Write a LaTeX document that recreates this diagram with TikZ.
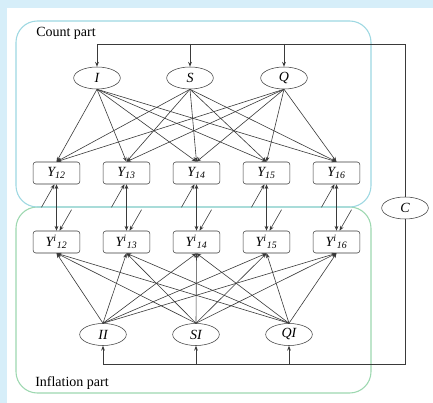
\documentclass[tikz,border=0pt]{standalone}
\usepackage{fontspec}
\setmainfont{Liberation Serif}
\usetikzlibrary{arrows.meta}
\usetikzlibrary{shapes.geometric}
\usetikzlibrary{calc}
\definecolor{bgblue}{HTML}{D6EEF9}
\definecolor{countcol}{HTML}{9ED8E2}
\definecolor{inflcol}{HTML}{9DD8B0}
\definecolor{linecol}{HTML}{3A3A3A}

\begin{document}
\begin{tikzpicture}[x=0.75pt,y=-0.75pt,
    font=\fontsize{10.5}{12}\selectfont,
    latent/.style={ellipse,draw=linecol,fill=white,minimum width=35pt,minimum height=16.5pt,
      inner sep=0pt,font=\fontsize{10.5}{12}\selectfont\itshape},
    obsbox/.style={rectangle,rounded corners=2pt,draw=linecol,fill=white,minimum width=35pt,
      minimum height=16.5pt,inner sep=0pt,font=\fontsize{10.5}{12}\selectfont\itshape},
    conn/.style={draw=linecol,line width=0.45pt,-{Stealth[length=3.6pt,width=2.8pt]}},
    dblconn/.style={draw=linecol,line width=0.45pt,{Stealth[length=3.6pt,width=2.8pt]}-{Stealth[length=3.6pt,width=2.8pt]}},
    feed/.style={draw=linecol,line width=0.6pt,-{Stealth[length=3.6pt,width=2.8pt]}},
    part/.style={line width=0.8pt,rounded corners=16pt}]
    % background and frame
    \fill[bgblue] (0,0) rectangle (433,403);
    \fill[white] (7,8) rectangle (433,403);
    \draw[part,draw=inflcol] (16,207) rectangle (371,393);
    \draw[part,draw=countcol] (16,21) rectangle (371,207);
    \node[anchor=base west,inner sep=0pt] (countlbl) at (36,37) {Count part};
    \node[anchor=base west,inner sep=0pt] (infllbl) at (35,387) {Inflation part};

    % latent factors
    \node[latent] (I) at (97,78) {I};
    \node[latent] (S) at (190,78) {S};
    \node[latent] (Q) at (284,78) {Q};
    \node[latent] (II) at (103,334.5) {II};
    \node[latent] (SI) at (196,334.5) {SI};
    \node[latent] (QI) at (289,334.5) {QI};
    \node[latent] (C) at (405,208) {C};

    % observed waves
    \foreach \k [count=\n from 0] in {12,...,16} {
      \node[obsbox] (Y\k) at (56.5+70*\n,173) {Y\textsubscript{\k}};
      \node[obsbox] (Yi\k) at (56.5+70*\n,242) {Y\textsuperscript{i}\textsubscript{\k}};
    }

    % loadings
    \foreach \f in {I,S,Q}
      \foreach \k in {12,...,16}
        \draw[conn] (\f.south) -- (Y\k.north);
    \foreach \f in {II,SI,QI}
      \foreach \k in {12,...,16}
        \draw[conn] (\f.north) -- (Yi\k.south);

    % residual links
    \foreach \k in {12,...,16} {
      \draw[dblconn] (Y\k.south) -- (Yi\k.north);
      \coordinate (ru\k) at ($(Y\k.south)+(-15,23)$);
      \coordinate (rd\k) at ($(Yi\k.north)+(15,-21)$);
      \draw[conn] (ru\k) -- ($(Y\k.south)+(-2,0)$);
      \draw[conn] (rd\k) -- ($(Yi\k.north)+(3,0)$);
    }

    % correlation paths through C
    \coordinate (Ctop) at (405,44);
    \coordinate (Cbot) at (405,364);
    \draw[feed] (C.north) -- (Ctop) -| (I.north);
    \draw[feed] (S.north |- Ctop) -- (S.north);
    \draw[feed] (Q.north |- Ctop) -- (Q.north);
    \draw[feed] (C.south) -- (Cbot) -| (II.south);
    \draw[feed] (SI.south |- Cbot) -- (SI.south);
    \draw[feed] (QI.south |- Cbot) -- (QI.south);
\end{tikzpicture}
\end{document}
